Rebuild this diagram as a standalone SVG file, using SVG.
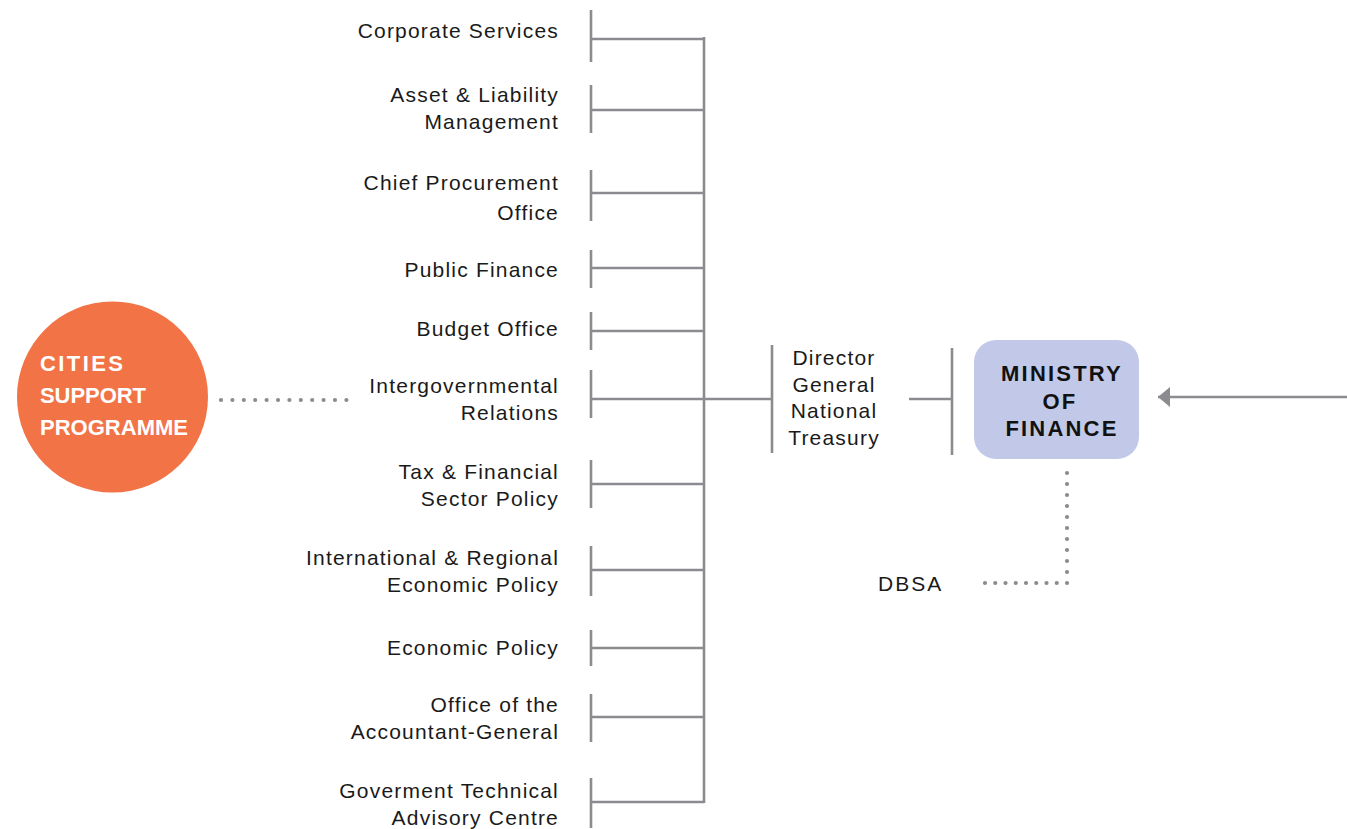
<svg xmlns="http://www.w3.org/2000/svg" width="1347" height="829" viewBox="0 0 1347 829">
  <style>
    .lbl { font-family: "Liberation Sans", Arial, sans-serif; font-size: 21px; letter-spacing: 1.2px; fill: #1a1a1a; }
    .end { text-anchor: end; }
    .mid { text-anchor: middle; }
    .ln { stroke: #8b8b90; stroke-width: 2.6; fill: none; }
    .dots { stroke: #8b8b90; stroke-width: 4.2; stroke-linecap: round; fill: none; }
    .csp { font-family: "Liberation Sans", Arial, sans-serif; font-weight: bold; font-size: 22px; fill: #ffffff; }
    .mof { font-family: "Liberation Sans", Arial, sans-serif; font-weight: bold; font-size: 22px; letter-spacing: 2.2px; fill: #111111; text-anchor: middle; }
  </style>
  <defs>
    <!-- arrowhead: tip lies at the end of the line, pointing along it -->
    <marker id="arrow" viewBox="0 0 12 20" refX="12" refY="10" markerWidth="12" markerHeight="20" markerUnits="userSpaceOnUse" orient="auto">
      <path d="M0,0 L12,10 L0,20 Z" fill="#8b8b90"/>
    </marker>
  </defs>
  <rect width="1347" height="829" fill="#ffffff"/>

  <!-- connectors -->
  <g id="connectors">
    <!-- spine joining all divisions -->
    <line class="ln" x1="704" y1="37" x2="704" y2="803"/>
    <path class="ln" d="M591,10V62 M591,39H704"/>
    <path class="ln" d="M591,85V133 M591,110H704"/>
    <path class="ln" d="M591,170V221 M591,193H704"/>
    <path class="ln" d="M591,250V288 M591,268H704"/>
    <path class="ln" d="M591,312V350 M591,331H704"/>
    <path class="ln" d="M591,370V418 M591,399H704"/>
    <path class="ln" d="M591,460V508 M591,484H704"/>
    <path class="ln" d="M591,546V596 M591,570H704"/>
    <path class="ln" d="M591,630V666 M591,648H704"/>
    <path class="ln" d="M591,694V742 M591,717H704"/>
    <path class="ln" d="M591,778V828 M591,802H704"/>
    <!-- spine to Director General -->
    <path class="ln" d="M704,399H772 M772,345V453"/>
    <!-- Director General to Ministry -->
    <path class="ln" d="M909,399H952 M952,348V455"/>
    <!-- incoming arrow -->
    <line class="ln" x1="1347" y1="397" x2="1158" y2="397" marker-end="url(#arrow)"/>
    <!-- dotted links -->
    <path class="dots" d="M221,400H347" stroke-dasharray="0 11.4"/>
    <path class="dots" d="M1067,473V583" stroke-dasharray="0 11"/>
    <path class="dots" d="M1067,583H984.9" stroke-dasharray="0 10.25"/>
  </g>

  <g id="cities-support-programme">
    <circle cx="112.5" cy="397" r="95.5" fill="#f27346"/>
    <text class="csp" x="40" y="371" textLength="83" lengthAdjust="spacing">CITIES</text>
    <text class="csp" x="40" y="403" textLength="106" lengthAdjust="spacing">SUPPORT</text>
    <text class="csp" x="40" y="435" textLength="148" lengthAdjust="spacing">PROGRAMME</text>
  </g>

  <g id="corporate-services"><text class="lbl end" x="559" y="38">Corporate Services</text></g>
  <g id="asset-liability"><text class="lbl end" x="559" y="102">Asset &amp; Liability</text><text class="lbl end" x="559" y="129">Management</text></g>
  <g id="chief-procurement"><text class="lbl end" x="559" y="190">Chief Procurement</text><text class="lbl end" x="559" y="220">Office</text></g>
  <g id="public-finance"><text class="lbl end" x="559" y="277">Public Finance</text></g>
  <g id="budget-office"><text class="lbl end" x="559" y="336">Budget Office</text></g>
  <g id="intergovernmental-relations"><text class="lbl end" x="559" y="393">Intergovernmental</text><text class="lbl end" x="559" y="420">Relations</text></g>
  <g id="tax-financial"><text class="lbl end" x="559" y="479">Tax &amp; Financial</text><text class="lbl end" x="559" y="506">Sector Policy</text></g>
  <g id="international-regional"><text class="lbl end" x="559" y="565">International &amp; Regional</text><text class="lbl end" x="559" y="592">Economic Policy</text></g>
  <g id="economic-policy"><text class="lbl end" x="559" y="655">Economic Policy</text></g>
  <g id="accountant-general"><text class="lbl end" x="559" y="712">Office of the</text><text class="lbl end" x="559" y="739">Accountant-General</text></g>
  <g id="gtac"><text class="lbl end" x="559" y="798">Goverment Technical</text><text class="lbl end" x="559" y="825">Advisory Centre</text></g>

  <g id="director-general">
    <text class="lbl mid" x="834" y="365">Director</text>
    <text class="lbl mid" x="834" y="392">General</text>
    <text class="lbl mid" x="834" y="418">National</text>
    <text class="lbl mid" x="834" y="445">Treasury</text>
  </g>

  <g id="ministry-of-finance">
    <rect x="974" y="340" width="165" height="119" rx="22" fill="#c2c9e8"/>
    <text class="mof" x="1062" y="381">MINISTRY</text>
    <text class="mof" x="1060" y="409">OF</text>
    <text class="mof" x="1062" y="436">FINANCE</text>
  </g>

  <g id="dbsa"><text class="lbl" x="878" y="591" style="letter-spacing:2px">DBSA</text></g>
</svg>
